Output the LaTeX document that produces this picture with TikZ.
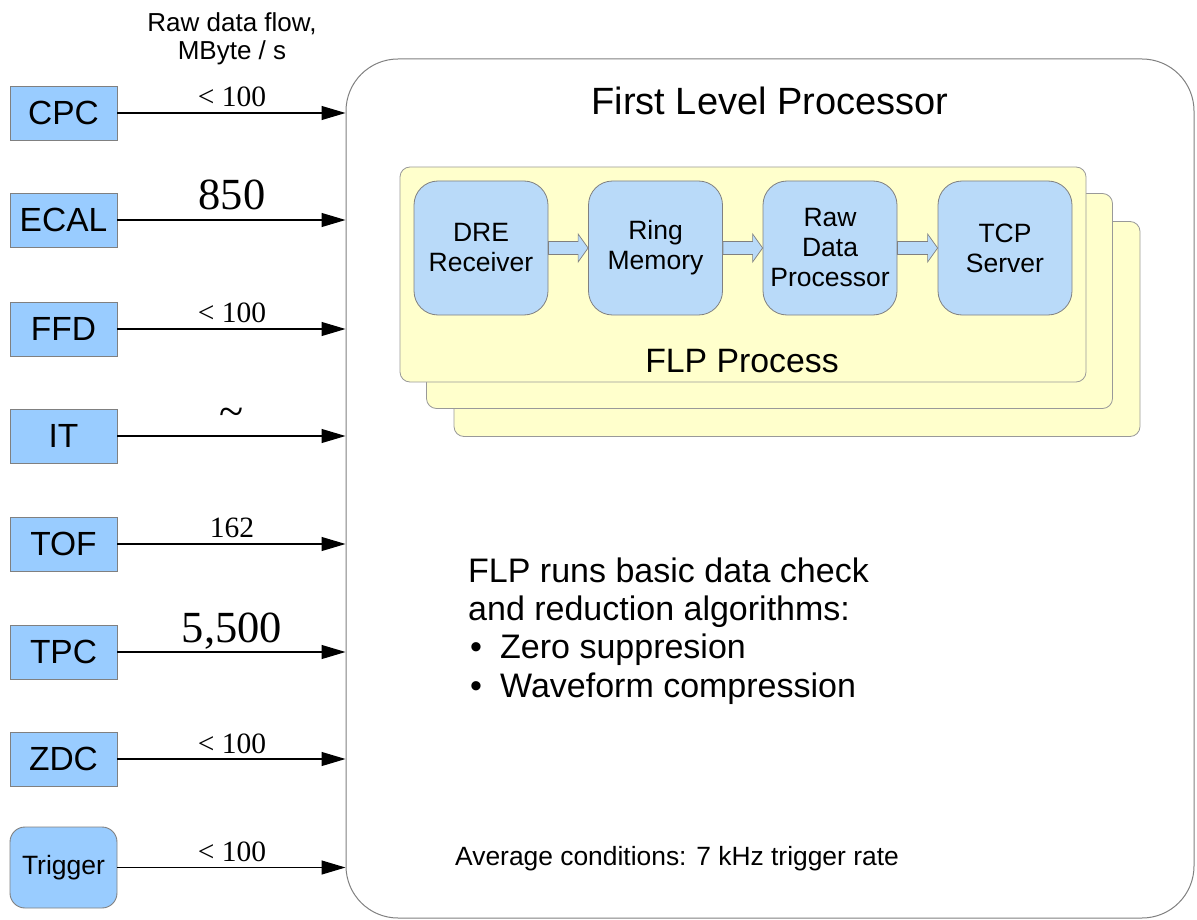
\documentclass[tikz,border=0pt]{standalone}
\usepackage{fontspec}
\setmainfont{Liberation Sans}
\newfontfamily\numfont{Liberation Serif}
\usetikzlibrary{arrows.meta,calc}
\definecolor{detblue}{RGB}{153,204,255}
\definecolor{stageblue}{RGB}{185,218,249}
\definecolor{procyellow}{RGB}{255,255,204}
\definecolor{edgegray}{RGB}{128,128,128}
\newcommand\fs[2]{\fontsize{#1}{#2}\selectfont}
% block arrow between two stages of the FLP process
\newcommand\stagearrow[2]{%
  \draw[stageflow] ($(#1.east)+(0,-6.5)$) -- ($(#2.west)+(-10,-6.5)$)
    -- ($(#2.west)+(-10,-14)$) -- (#2.west) -- ($(#2.west)+(-10,14)$)
    -- ($(#2.west)+(-10,6.5)$) -- ($(#1.east)+(0,6.5)$) -- cycle;}

\begin{document}
\begin{tikzpicture}[x=1pt,y=-1pt,
  detector/.style={draw=edgegray, line width=0.9pt, fill=detblue,
    minimum width=107pt, minimum height=54pt, inner sep=0pt,
    font=\fs{33.5}{38}},
  stagebox/.style={draw=edgegray, line width=0.8pt, fill=stageblue,
    rounded corners=24pt, minimum width=134pt, minimum height=134pt,
    inner sep=0pt, align=center, font=\fs{26.5}{30}},
  panel/.style={draw=edgegray!80, line width=0.8pt, fill=procyellow,
    rounded corners=10pt, minimum width=686pt, minimum height=215pt,
    inner sep=0pt},
  mainbox/.style={draw=edgegray, line width=1pt, rounded corners=52pt,
    minimum width=848pt, minimum height=859pt, inner sep=0pt},
  flow/.style={draw=black, line width=1.2pt,
    -{Triangle[length=24pt,width=14pt]}},
  stageflow/.style={draw=edgegray, line width=0.7pt, fill=stageblue},
  rate/.style={font=\numfont\fs{29.5}{32}, anchor=base, inner sep=0pt},
  bigrate/.style={font=\numfont\fs{44.5}{48}, anchor=base, inner sep=0pt},
  txt/.style={inner sep=0pt}
]
\useasboundingbox (0,0) rectangle (1197,920);

% header of the rate column
\node[txt, anchor=base, font=\fs{26}{28}] (hdr1) at (232,32) {Raw data flow,};
\node[txt, anchor=base, font=\fs{26}{28}] (hdr2) at (232,60) {MByte / s};

% first level processor frame
\node[mainbox] (flp) at (770,488.5) {};
\node[txt, anchor=base, font=\fs{38}{40}] (title) at (770,115) {First Level Processor};

% stacked FLP process panels
\node[panel] (proc3) at (797,329) {};
\node[panel] (proc2) at (769.5,301) {};
\node[panel] (proc1) at (743,274.5) {};
\node[txt, anchor=base, font=\fs{33.8}{36}] (proclabel) at (742,372) {FLP Process};

% processing stages
\node[stagebox] (dre)  at (481,248)   {DRE\\Receiver};
\node[stagebox] (ring) at (655.5,248) {Ring\\Memory};
\node[stagebox] (raw)  at (830,248)   {Raw\\Data\\Processor};
\node[stagebox] (tcp)  at (1005,248)  {TCP\\Server};
\stagearrow{dre}{ring}
\stagearrow{ring}{raw}
\stagearrow{raw}{tcp}

% detectors
\node[detector] (cpc)  at (63.5,113) {CPC};
\node[detector] (ecal) at (63.5,220) {ECAL};
\node[detector] (ffd)  at (63.5,329) {FFD};
\node[detector] (it)   at (63.5,436) {IT};
\node[detector] (tof)  at (63.5,544) {TOF};
\node[detector] (tpc)  at (63.5,652) {TPC};
\node[detector] (zdc)  at (63.5,759) {ZDC};
\node[detector, rounded corners=15pt, minimum height=81pt, font=\fs{26.5}{30}]
  (trig) at (63.5,867.5) {Trigger};

% data flows into the FLP
\foreach \d in {cpc,ecal,ffd,it,tof,tpc,zdc,trig}
  \draw[flow] (\d) -- (\d -| flp.west);

% flow rates
\node[rate]    (rcpc)  at (232,107) {< 100};
\node[bigrate] (recal) at (232,210) {850};
\node[rate]    (rffd)  at (232,322) {< 100};
\node[bigrate] (rit)   at (232,426) {\textasciitilde};
\node[rate]    (rtof)  at (232,537) {162};
\node[bigrate] (rtpc)  at (232,642) {5,500};
\node[rate]    (rzdc)  at (232,753) {< 100};
\node[rate]    (rtrig) at (232,861) {< 100};

% description
\node[txt, anchor=base west, font=\fs{34}{38}] (d1) at (468,582) {FLP runs basic data check};
\node[txt, anchor=base west, font=\fs{34}{38}] (d2) at (468,620) {and reduction algorithms:};
\node[txt, anchor=base west, font=\fs{34}{38}] (d3) at (470,658) {\makebox[30pt][l]{•}Zero suppresion};
\node[txt, anchor=base west, font=\fs{34}{38}] (d4) at (470,697) {\makebox[30pt][l]{•}Waveform compression};

\node[txt, anchor=base west, font=\fs{26.4}{30}] (cond) at (455,865) {Average conditions: 7 kHz trigger rate};
\end{tikzpicture}
\end{document}
